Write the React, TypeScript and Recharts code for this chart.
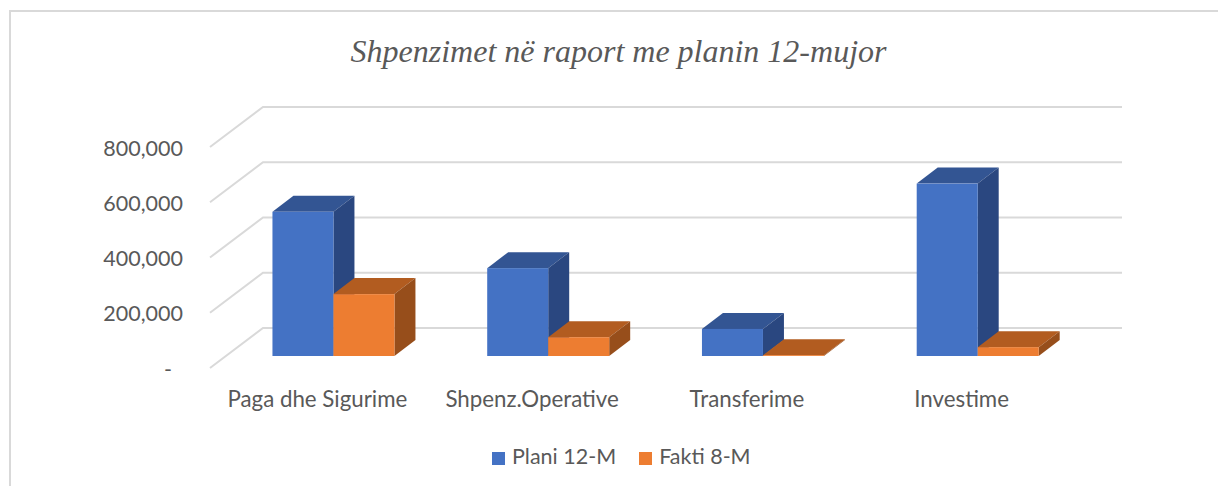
import { BarChart, Bar, XAxis, YAxis, CartesianGrid, Legend } from 'recharts'

const kategorite = ['Paga dhe Sigurime', 'Shpenz.Operative', 'Transferime', 'Investime']
const plani = [522000, 318000, 98000, 624000]
const fakti = [224000, 68000, 3000, 32000]
const yTicks = [0, 200000, 400000, 600000, 800000]

const data = kategorite.map((emri, i) => ({ emri, plani: plani[i], fakti: fakti[i] }))

const FONT = 'Lato, sans-serif'
const TEXT = '#595959'
const GRID = '#d9d9d9'

// bars sit partway into the floor, so they are shifted off the front plane
const BAR_DX = 16.5
const BAR_DY = -12
const DEPTH_X = 21
const DEPTH_Y = -16
// full depth of the back wall
const WALL_X = 53
const WALL_Y = -40

function formatY(v: number): string {
  if (v === 0) return '-\u00a0\u00a0'
  return v.toLocaleString('en-US')
}

function GridLine(props: any) {
  const { x1, y1, x2, key } = props
  const bx = x1 + WALL_X
  const by = y1 + WALL_Y
  return (
    <path
      key={key}
      d={`M${x1},${y1} L${bx},${by} L${x2 + WALL_X},${by}`}
      fill="none"
      stroke={GRID}
      strokeWidth={2}
    />
  )
}

function box(front: string, top: string, side: string) {
  return function Box3D(props: any) {
    const x = props.x + BAR_DX
    const y = props.y + BAR_DY
    const w = props.width
    const h = props.height
    return (
      <g>
        <path
          d={`M${x},${y} l${DEPTH_X},${DEPTH_Y} h${w} l${-DEPTH_X},${-DEPTH_Y} z`}
          fill={top}
        />
        <path
          d={`M${x + w},${y} l${DEPTH_X},${DEPTH_Y} v${h} l${-DEPTH_X},${-DEPTH_Y} z`}
          fill={side}
        />
        <rect x={x} y={y} width={w} height={h} fill={front} />
      </g>
    )
  }
}

export default function App() {
  return (
    <div style={{ position: 'absolute', left: 0, top: 0, width: 1218, height: 486, overflow: 'hidden', background: '#fff' }}>
      {/* frame runs off the right and bottom of the picture */}
      <div
        style={{
          position: 'absolute',
          left: 9,
          top: 10,
          width: 1300,
          height: 600,
          border: `2px solid ${GRID}`,
          boxSizing: 'border-box',
        }}
      />
      <div
        style={{
          position: 'absolute',
          left: 0,
          top: 33,
          width: 1237,
          textAlign: 'center',
          fontFamily: '"Liberation Serif", serif',
          fontStyle: 'italic',
          fontSize: 32,
          color: TEXT,
        }}
      >
        Shpenzimet në raport me planin 12-mujor
      </div>
      <div style={{ position: 'absolute', left: 0, top: 0 }}>
        <BarChart
          width={1218}
          height={486}
          data={data}
          margin={{ top: 147, right: 149, left: 0, bottom: 42 }}
          barCategoryGap="21.4%"
          barGap={0}
        >
          <CartesianGrid horizontal={GridLine as any} vertical={false} />
          <XAxis
            dataKey="emri"
            interval={0}
            axisLine={false}
            tickLine={false}
            tickSize={0}
            tickMargin={23}
            height={50}
            tick={{ fontSize: 22.3, fontFamily: FONT, fill: TEXT }}
          />
          <YAxis
            width={210}
            domain={[0, 800000]}
            ticks={yTicks}
            tickFormatter={formatY}
            axisLine={false}
            tickLine={false}
            tickSize={0}
            tickMargin={27}
            tick={{ fontSize: 21.5, fontFamily: FONT, fill: TEXT, dy: 1 }}
          />
          <Legend
            verticalAlign="bottom"
            align="left"
            iconType="square"
            iconSize={13}
            itemSorter={null}
            wrapperStyle={{ fontSize: 21.5, fontFamily: FONT, bottom: 17, left: 492, width: 300 }}
            formatter={(v: string) => <span style={{ color: TEXT, marginLeft: 3, marginRight: 13 }}>{v}</span>}
          />
          <Bar dataKey="plani" name="Plani 12-M" fill="#4472C4" isAnimationActive={false} shape={box('#4472C4', '#335593', '#2A4780')} />
          <Bar dataKey="fakti" name="Fakti 8-M" fill="#ED7D31" isAnimationActive={false} shape={box('#ED7D31', '#B25C20', '#974E1B')} />
        </BarChart>
      </div>
    </div>
  )
}
